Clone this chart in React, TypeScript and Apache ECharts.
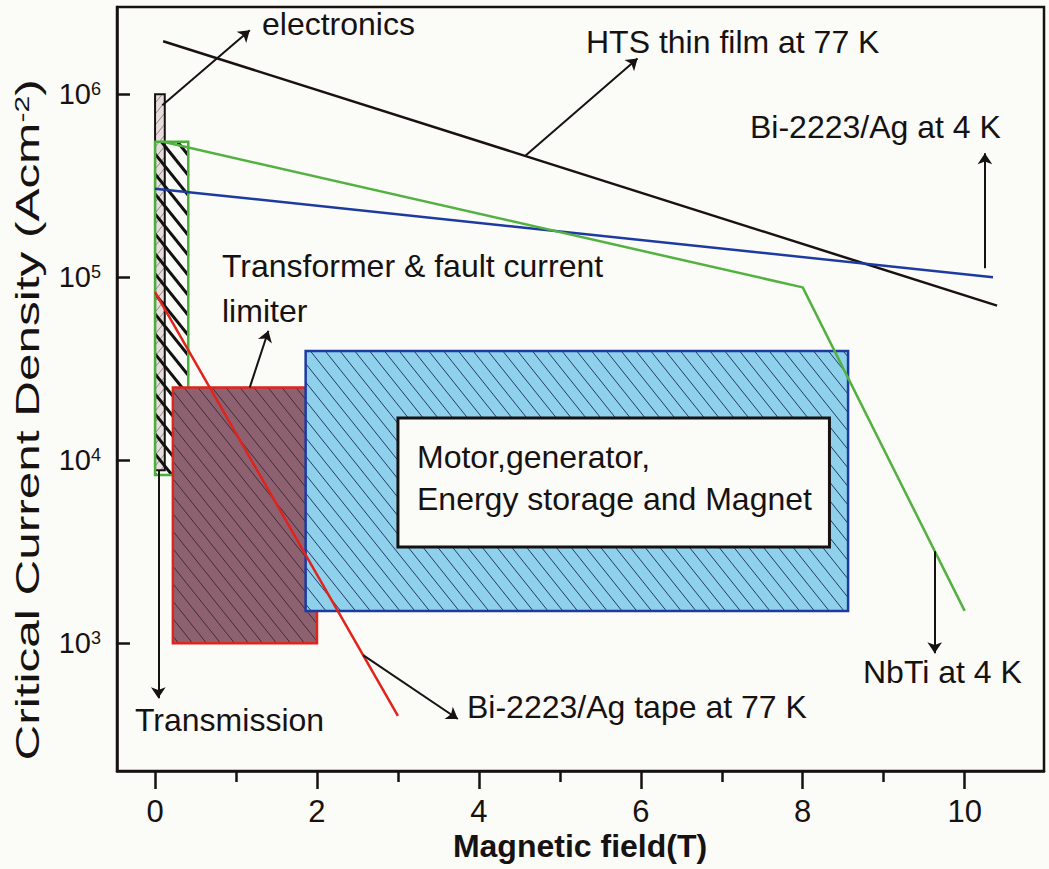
import React, { useEffect, useRef } from 'react';
import * as echarts from 'echarts';

const FONT = '"Liberation Sans", Arial, Helvetica, sans-serif';
const INK = '#171212';

// axis ticks
const xTickMajor = [0, 2, 4, 6, 8, 10];
const xTickMinor = [1, 3, 5, 7, 9];
const yTicks = [1e3, 1e4, 1e5, 1e6];

// curves (magnetic field T, critical current density A/cm2)
const htsX = [0.1, 10.4];
const htsY = [1.95e6, 7.0e4];
const bi4kX = [0, 10.35];
const bi4kY = [3.05e5, 1.0e5];
const nbtiX = [0.1, 8.0, 10.0];
const nbtiY = [5.5e5, 8.8e4, 1.5e3];
const tapeX = [0, 3.0];
const tapeY = [8.3e4, 400];

// application regions [x0, x1, y0, y1]
const electronicsBox = [0, 0.12, 8.8e3, 1.0e6];
const nbtiBox = [0, 0.41, 8.3e3, 5.5e5];
const transformerBox = [0.22, 2.0, 1.0e3, 2.5e4];
const motorBox = [1.86, 8.56, 1.5e3, 3.95e4];
const motorLabelBox = [3.0, 8.33, 3.35e3, 1.7e4];

// annotation arrows [[from], [to]]
const arrows = [
  [[0.09, 8.7e5], [1.17, 2.24e6]],
  [[4.57, 4.6e5], [5.96, 1.57e6]],
  [[10.25, 1.12e5], [10.25, 4.76e5]],
  [[1.17, 2.5e4], [1.4, 5.1e4]],
  [[0.04, 8.8e3], [0.04, 500]],
  [[2.57, 860], [3.74, 385]],
  [[9.63, 3.18e3], [9.63, 880]],
];

// annotation texts [text, left px, middle px]
const notes: [string, number, number][] = [
  ['electronics', 262, 24],
  ['HTS thin film at 77 K', 586, 42],
  ['Bi-2223/Ag at 4 K', 750, 127],
  ['Transformer & fault current', 222, 266],
  ['limiter', 222, 311],
  ['Motor,generator,', 417, 457],
  ['Energy storage and Magnet', 417, 499],
  ['Transmission', 135, 720],
  ['Bi-2223/Ag tape at 77 K', 467, 707],
  ['NbTi at 4 K', 863, 672],
];

function hatch(L: number, T: number, R: number, B: number, s: number, step: number, dir: number, style: any) {
  const segs: any[] = [];
  if (dir > 0) {
    const cMin = T - s * R, cMax = B - s * L;
    for (let c = Math.ceil(cMin / step) * step; c <= cMax; c += step) {
      const xa = Math.max(L, (T - c) / s), xb = Math.min(R, (B - c) / s);
      if (xb > xa) segs.push({ type: 'line', silent: true, shape: { x1: xa, y1: s * xa + c, x2: xb, y2: s * xb + c }, style });
    }
  } else {
    const cMin = T + s * L, cMax = B + s * R;
    for (let c = Math.ceil(cMin / step) * step; c <= cMax; c += step) {
      const xa = Math.max(L, (c - B) / s), xb = Math.min(R, (c - T) / s);
      if (xb > xa) segs.push({ type: 'line', silent: true, shape: { x1: xa, y1: c - s * xa, x2: xb, y2: c - s * xb }, style });
    }
  }
  return segs;
}

function boxSeries(name: string, box: number[], o: any) {
  return {
    type: 'custom',
    name,
    silent: true,
    clip: false,
    encode: { x: [0, 1], y: [2, 3] },
    data: [box],
    z: o.z ?? 2,
    renderItem: (params: any, api: any) => {
      const p0 = api.coord([api.value(0), api.value(3)]);
      const p1 = api.coord([api.value(1), api.value(2)]);
      const L = p0[0], T = p0[1], R = p1[0], B = p1[1];
      const children: any[] = [];
      if (o.fill) children.push({ type: 'rect', shape: { x: L, y: T, width: R - L, height: B - T }, style: { fill: o.fill } });
      if (o.hatch) for (const h of o.hatch) children.push(...hatch(L, T, R, B, h.s, h.step, h.dir, { stroke: h.color, lineWidth: h.width }));
      children.push({ type: 'rect', shape: { x: L, y: T, width: R - L, height: B - T }, style: { fill: 'none', stroke: o.stroke, lineWidth: o.lw } });
      return { type: 'group', children };
    },
  };
}

const pairs = (xs: number[], ys: number[]) => xs.map((x, i) => [x, ys[i]]);

export default function App() {
  const ref = useRef<HTMLDivElement>(null);
  useEffect(() => {
    if (!ref.current) return;
    const chart = echarts.init(ref.current, null, { renderer: 'svg' });
    const lineSeries = (name: string, xs: number[], ys: number[], color: string) => ({
      type: 'line', name, data: pairs(xs, ys), symbol: 'none', silent: true, z: 4,
      lineStyle: { color, width: 2.5 },
    });
    chart.setOption({
      animation: false,
      backgroundColor: '#fbfbf7',
      textStyle: { fontFamily: FONT },
      grid: { left: 117, right: 5, top: 7, bottom: 98, show: true, borderColor: INK, borderWidth: 2.5, backgroundColor: 'transparent' },
      xAxis: [
        {
          type: 'value', min: -0.47, max: 10.98, position: 'bottom',
          axisLine: { onZero: false, lineStyle: { color: INK, width: 2.5 } },
          axisTick: { customValues: xTickMajor, length: 18, lineStyle: { color: INK, width: 2.5 } },
          axisLabel: { customValues: xTickMajor, margin: 25, fontSize: 31, color: INK, fontFamily: FONT },
          splitLine: { show: false },
        },
        {
          type: 'value', min: -0.47, max: 10.98, position: 'bottom',
          axisLine: { show: false, onZero: false },
          axisTick: { customValues: xTickMinor, length: 11, lineStyle: { color: INK, width: 2.5 } },
          axisLabel: { show: false },
          splitLine: { show: false },
        },
      ],
      yAxis: {
        type: 'log', logBase: 10, min: 200, max: 3e6,
        axisLine: { show: true, onZero: false, lineStyle: { color: INK, width: 2.5 } },
        axisTick: { show: true, inside: true, length: 13, customValues: yTicks, lineStyle: { color: INK, width: 2.5 } },
        minorTick: { show: false },
        axisLabel: {
          customValues: yTicks, margin: 16, color: INK, fontFamily: FONT, fontSize: 29,
          formatter: (v: number) => `10{sup|${Math.round(Math.log10(v))}}`,
          rich: { sup: { fontSize: 18, verticalAlign: 'top', color: INK, fontFamily: FONT, padding: [0, 0, 10, 0] } },
        },
        splitLine: { show: false },
      },
      series: [
        boxSeries('electronics', electronicsBox, {
          fill: '#e6dcdc', stroke: INK, lw: 2,
          hatch: [{ s: 1.25, step: 11, dir: -1, color: '#8a8080', width: 0.9 }],
        }),
        boxSeries('nbti', nbtiBox, {
          stroke: '#4caf3a', lw: 2.5,
          hatch: [{ s: 1.25, step: 20, dir: 1, color: '#111', width: 3 }],
        }),
        boxSeries('transformer', transformerBox, {
          fill: '#8e6171', stroke: '#e0241c', lw: 2.5,
          hatch: [{ s: 1.25, step: 17.5, dir: 1, color: 'rgba(40,25,35,0.75)', width: 1 }],
        }),
        boxSeries('motor', motorBox, {
          fill: '#8fd0ea', stroke: '#1c3aa0', lw: 2.5,
          hatch: [{ s: 1.25, step: 18.5, dir: 1, color: '#25386e', width: 1 }],
        }),
        boxSeries('motorLabel', motorLabelBox, { fill: '#fbfbf7', stroke: INK, lw: 3 }),
        lineSeries('HTS thin film at 77 K', htsX, htsY, '#1a1212'),
        lineSeries('Bi-2223/Ag at 4 K', bi4kX, bi4kY, '#1c3aa0'),
        lineSeries('NbTi at 4 K', nbtiX, nbtiY, '#52b140'),
        lineSeries('Bi-2223/Ag tape at 77 K', tapeX, tapeY, '#e0241c'),
        {
          type: 'lines', coordinateSystem: 'cartesian2d', silent: true, z: 5,
          symbol: ['none', 'arrow'], symbolSize: 11,
          lineStyle: { color: INK, width: 2, opacity: 1, curveness: 0 },
          data: arrows.map((a) => ({ coords: a })),
        },
      ],
      graphic: [
        ...notes.map(([text, x, y]) => ({
          type: 'text', x, y, z: 100, silent: true,
          style: { text, fontFamily: FONT, fontSize: 32, fill: INK, verticalAlign: 'middle', align: 'left' },
        })),
        {
          type: 'text', x: 580, y: 846, z: 100, silent: true,
          style: { text: 'Magnetic field(T)', fontFamily: FONT, fontSize: 32, fontWeight: 'bold', fill: INK, align: 'center', verticalAlign: 'middle' },
        },
        {
          type: 'text', x: 28, y: 420, z: 100, silent: true, rotation: Math.PI / 2, scaleX: 1.5,
          style: {
            text: 'Critical Current Density (Acm{sup|-2})', fontFamily: FONT, fontSize: 33, fill: INK,
            align: 'center', verticalAlign: 'middle',
            rich: { sup: { fontSize: 20, verticalAlign: 'top', fill: INK, fontFamily: FONT, padding: [0, 0, 12, 0] } },
          },
        },
      ],
    });
    return () => chart.dispose();
  }, []);
  return <div ref={ref} style={{ position: 'fixed', left: 0, top: 0, width: 1049, height: 869 }} />;
}
